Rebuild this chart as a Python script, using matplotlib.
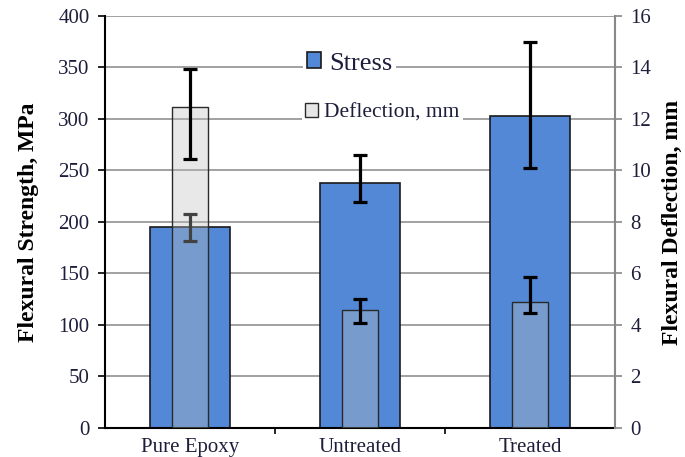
import numpy as np
import matplotlib.pyplot as plt
from matplotlib.patches import Patch

plt.rcParams['font.family'] = ['Liberation Serif', 'DejaVu Serif']

categorias = ['Pure Epoxy', 'Untreated', 'Treated']
esfuerzo = [195, 238, 303]          # MPa
esfuerzo_err_inf = [13, 19, 51]
esfuerzo_err_sup = [13, 27, 72]
deflexion = [12.45, 4.58, 4.90]     # mm
deflexion_err_inf = [2.0, 0.5, 0.42]
deflexion_err_sup = [1.5, 0.42, 0.98]

azul = '#5288d6'
texto = '#1e1e3c'
x = np.arange(len(categorias))

fig = plt.figure(figsize=(6.85, 4.57), dpi=100)
ax = fig.add_axes([0.153, 0.0635, 0.745, 0.9015])
ax2 = ax.twinx()

# barras de esfuerzo (eje izquierdo)
ax.bar(x, esfuerzo, width=0.47, color=azul, edgecolor='#1a1a1a', linewidth=1.2, zorder=2)
ax.errorbar(x, esfuerzo, yerr=[esfuerzo_err_inf, esfuerzo_err_sup], fmt='none', ecolor='black',
            elinewidth=2.3, capsize=5, capthick=2.3, zorder=3)

# barras de deflexion (eje derecho), semitransparentes
ax2.bar(x, deflexion, width=0.215, color=(0.75, 0.75, 0.75, 0.35),
        edgecolor='#2a2a2a', linewidth=1.0, zorder=2)
ax2.errorbar(x, deflexion, yerr=[deflexion_err_inf, deflexion_err_sup], fmt='none',
             ecolor='black', elinewidth=2.3, capsize=5, capthick=2.3, zorder=3)

ax.set_xlim(-0.5, 2.5)
ax.set_ylim(0, 400)
ax2.set_ylim(0, 16)
ax.set_yticks(np.arange(0, 401, 50))
ax2.set_yticks(np.arange(0, 17, 2))
ax.set_xticks(x)
ax.set_xticklabels(categorias, fontsize=15, color=texto)
ax.set_xticks([0.5, 1.5], minor=True)
ax.tick_params(axis='x', which='major', length=0, pad=7)
ax.tick_params(axis='x', which='minor', length=4, width=1.2, direction='out')
ax.tick_params(axis='y', labelsize=15, labelcolor=texto, length=5, width=1.2,
               direction='out', pad=6)
ax2.tick_params(axis='y', labelsize=15, labelcolor=texto, length=5, width=1.2,
                direction='out', color='#888888', pad=6)

ax.yaxis.grid(True, color='#9a9a9a', linewidth=1.3, zorder=0)
ax.set_axisbelow(True)

for s in ['top', 'right']:
    ax.spines[s].set_visible(False)
for s in ['top', 'left', 'bottom']:
    ax2.spines[s].set_visible(False)
ax.spines['left'].set_linewidth(1.5)
ax.spines['bottom'].set_linewidth(1.5)
ax2.spines['right'].set_color('#888888')
ax2.spines['right'].set_linewidth(1.5)

ax.set_ylabel('Flexural Strength, MPa', fontsize=17, fontweight='bold', labelpad=14)
ax2.set_ylabel('Flexural Deflection, mm', fontsize=17, fontweight='bold', labelpad=8)

leg1 = ax.legend(handles=[Patch(facecolor=azul, edgecolor='#1a1a1a', linewidth=1.2, label='Stress')],
                 loc='center left', bbox_to_anchor=(0.362, 0.885), fontsize=19,
                 frameon=True, facecolor='white', edgecolor='none', framealpha=1,
                 handlelength=0.55, handleheight=0.55, handletextpad=0.3, borderpad=0.15,
                 fancybox=False, labelcolor=texto)
leg2 = ax2.legend(handles=[Patch(facecolor='#e6e6e6', edgecolor='#2a2a2a', linewidth=1.0,
                                 label='Deflection, mm')],
                  loc='center left', bbox_to_anchor=(0.365, 0.765), fontsize=15.5,
                  frameon=True, facecolor='white', edgecolor='none', framealpha=1,
                  handlelength=0.6, handleheight=0.6, handletextpad=0.3, borderpad=0.15,
                  fancybox=False, labelcolor=texto)

fig.savefig('out.png', dpi=100)
